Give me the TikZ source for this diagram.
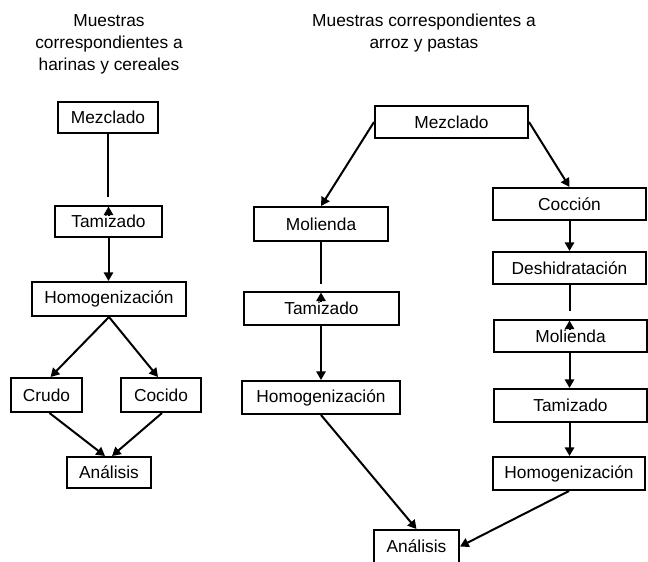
\documentclass[tikz,border=0pt]{standalone}
\usepackage{fontspec}
\setmainfont{Liberation Sans}
\usetikzlibrary{arrows.meta,calc}
\begin{document}
\begin{tikzpicture}[x=0.75pt,y=-0.75pt,
  box/.style={draw,line width=1.5pt,inner sep=0pt,font=\fontsize{13}{15}\selectfont},
  ttl/.style={align=center,inner sep=0pt,font=\fontsize{13}{16.5}\selectfont},
  ln/.style={line width=1.5pt},
  arr/.style={line width=1.5pt,-{Triangle[length=6.5pt,width=7pt]}}]
\useasboundingbox (0,0) rectangle (648,561);
% titles
\node[ttl] (tL) at (109,44) {Muestras\\correspondientes a\\harinas y cereales};
\node[ttl] (tR) at (424,33) {Muestras correspondientes a\\arroz y pastas};
% left column
\node[box,minimum width=75pt,minimum height=23.25pt] (mezL) at (108,117.5) {Mezclado};
\node[box,minimum width=80.25pt,minimum height=23.25pt] (tamL) at (108.5,221.5) {Tamizado};
\node[box,minimum width=115.5pt,minimum height=25.5pt] (homL) at (109,299) {Homogenización};
\node[box,minimum width=53.25pt,minimum height=25.5pt] (crudo) at (46.5,395) {Crudo};
\node[box,minimum width=60pt,minimum height=25.5pt] (cocido) at (161,395) {Cocido};
\node[box,minimum width=63pt,minimum height=23.25pt] (anL) at (109,472.5) {Análisis};
% right side
\node[box,minimum width=114.75pt,minimum height=24pt] (mezR) at (451.5,122) {Mezclado};
\node[box,minimum width=100.5pt,minimum height=25.5pt] (molL) at (321,224) {Molienda};
\node[box,minimum width=116.25pt,minimum height=24.75pt] (tamM) at (321.5,308.5) {Tamizado};
\node[box,minimum width=118.5pt,minimum height=24.75pt] (homM) at (321,397.5) {Homogenización};
\node[box,minimum width=114.75pt,minimum height=24pt] (coc) at (569.5,204) {Cocción};
\node[box,minimum width=114.75pt,minimum height=24pt] (desh) at (569.5,268) {Deshidratación};
\node[box,minimum width=114.75pt,minimum height=24pt] (molR) at (570.5,336) {Molienda};
\node[box,minimum width=114.75pt,minimum height=24.75pt] (tamR) at (570.5,405.5) {Tamizado};
\node[box,minimum width=114pt,minimum height=24.75pt] (homR) at (569,473.5) {Homogenización};
\node[box,minimum width=63.75pt,minimum height=24.75pt] (anR) at (416.5,546.5) {Análisis};
% gap coordinates
\coordinate (gL) at (108,197);
\coordinate (gM) at (321,284);
\coordinate (gR) at (569.5,311);
% left connectors
\draw[ln] (mezL.south) -- (gL);
\draw[arr] ($(tamL.north)+(0,9.5)$) -- ($(tamL.north)+(0,1.5)$);
\draw[arr] (tamL.south) -- (tamL.south |- homL.north);
\draw[arr] (homL.south) -- ($(crudo.north)+(4,0)$);
\draw[arr] (homL.south) -- ($(cocido.north)+(-3,0)$);
\draw[arr] ($(crudo.south)+(3,0)$) -- ($(anL.north)+(-4,0)$);
\draw[arr] ($(cocido.south)+(1,0)$) -- ($(anL.north)+(3,0)$);
% right connectors
\draw[arr] (mezR.west) -- (molL.north);
\draw[arr] (mezR.east) -- (coc.north);
\draw[arr] (coc.south) -- (desh.north);
\draw[ln] (desh.south) -- (gR);
\draw[arr] ($(molR.north)+(-1,9.5)$) -- ($(molR.north)+(-1,1.5)$);
\draw[arr] ($(molR.south)+(-1,0)$) -- ($(molR.south |- tamR.north)+(-1,0)$);
\draw[arr] ($(tamR.south)+(-1,0)$) -- ($(tamR.south |- homR.north)+(-1,0)$);
\draw[arr] (homR.south) -- (anR.east);
\draw[ln] (molL.south) -- (gM);
\draw[arr] ($(tamM.north)+(-0.5,9.5)$) -- ($(tamM.north)+(-0.5,1.5)$);
\draw[arr] ($(tamM.south)+(-0.5,0)$) -- ($(tamM.south |- homM.north)+(-0.5,0)$);
\draw[arr] (homM.south) -- (anR.north);
\end{tikzpicture}
\end{document}
